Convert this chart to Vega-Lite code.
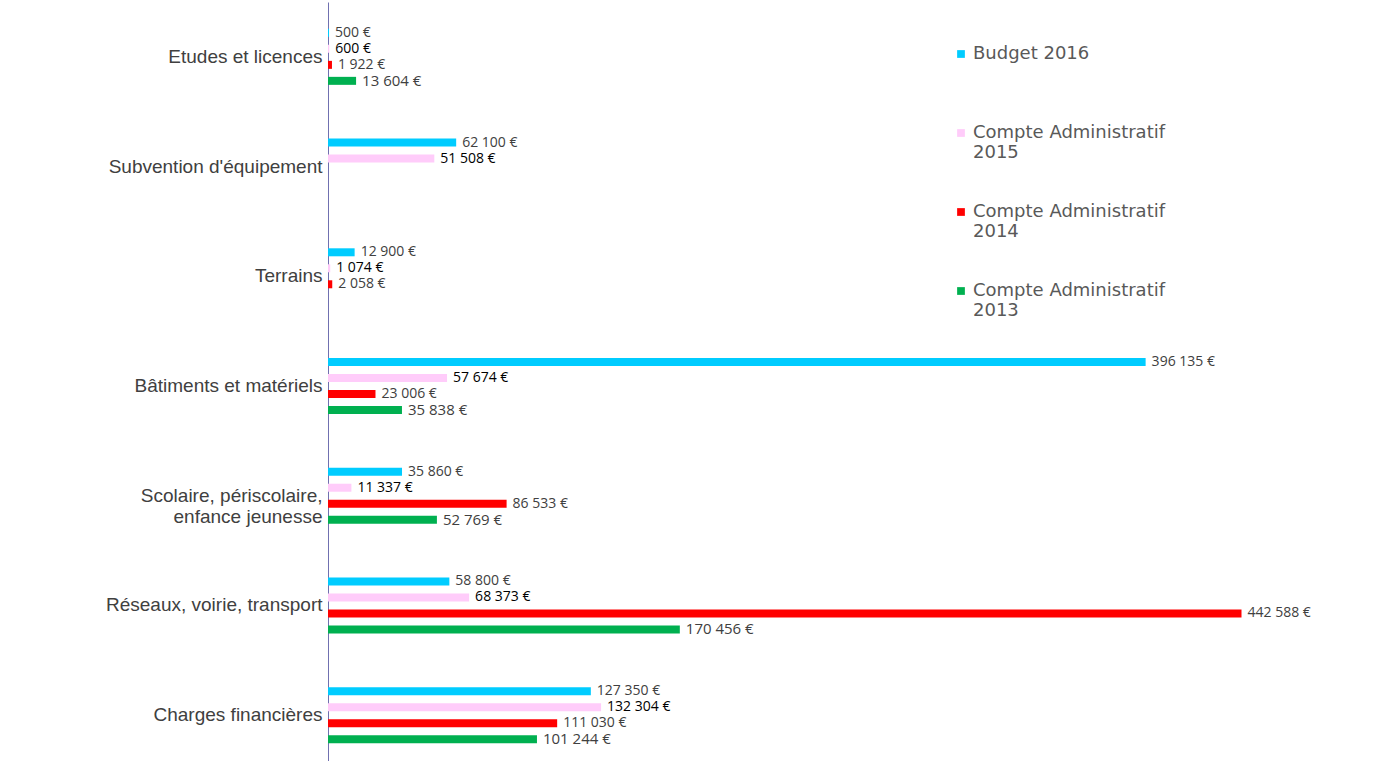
{
  "$schema": "https://vega.github.io/schema/vega-lite/v6.json",
  "autosize": {"type": "none"},
  "padding": {"left": 328, "top": 2, "right": 0, "bottom": 0},
  "width": 1032,
  "height": 768,
  "background": "white",
  "config": {"view": {"stroke": null}},
  "data": {
    "values": [
      {"poste": "Etudes et licences", "serie": "Budget 2016", "montant": 500},
      {"poste": "Etudes et licences", "serie": "Compte Administratif 2015", "montant": 600},
      {"poste": "Etudes et licences", "serie": "Compte Administratif 2014", "montant": 1922},
      {"poste": "Etudes et licences", "serie": "Compte Administratif 2013", "montant": 13604},
      {"poste": "Subvention d'équipement", "serie": "Budget 2016", "montant": 62100},
      {"poste": "Subvention d'équipement", "serie": "Compte Administratif 2015", "montant": 51508},
      {"poste": "Terrains", "serie": "Budget 2016", "montant": 12900},
      {"poste": "Terrains", "serie": "Compte Administratif 2015", "montant": 1074},
      {"poste": "Terrains", "serie": "Compte Administratif 2014", "montant": 2058},
      {"poste": "Bâtiments et matériels", "serie": "Budget 2016", "montant": 396135},
      {"poste": "Bâtiments et matériels", "serie": "Compte Administratif 2015", "montant": 57674},
      {"poste": "Bâtiments et matériels", "serie": "Compte Administratif 2014", "montant": 23006},
      {"poste": "Bâtiments et matériels", "serie": "Compte Administratif 2013", "montant": 35838},
      {"poste": "Scolaire, périscolaire, enfance jeunesse", "serie": "Budget 2016", "montant": 35860},
      {"poste": "Scolaire, périscolaire, enfance jeunesse", "serie": "Compte Administratif 2015", "montant": 11337},
      {"poste": "Scolaire, périscolaire, enfance jeunesse", "serie": "Compte Administratif 2014", "montant": 86533},
      {"poste": "Scolaire, périscolaire, enfance jeunesse", "serie": "Compte Administratif 2013", "montant": 52769},
      {"poste": "Réseaux, voirie, transport", "serie": "Budget 2016", "montant": 58800},
      {"poste": "Réseaux, voirie, transport", "serie": "Compte Administratif 2015", "montant": 68373},
      {"poste": "Réseaux, voirie, transport", "serie": "Compte Administratif 2014", "montant": 442588},
      {"poste": "Réseaux, voirie, transport", "serie": "Compte Administratif 2013", "montant": 170456},
      {"poste": "Charges financières", "serie": "Budget 2016", "montant": 127350},
      {"poste": "Charges financières", "serie": "Compte Administratif 2015", "montant": 132304},
      {"poste": "Charges financières", "serie": "Compte Administratif 2014", "montant": 111030},
      {"poste": "Charges financières", "serie": "Compte Administratif 2013", "montant": 101244}
    ]
  },
  "transform": [
    {"calculate": "replace(format(datum.montant, ','), regexp(',', 'g'), ' ') + ' €'", "as": "etiquette"}
  ],
  "encoding": {
    "y": {
      "field": "poste",
      "type": "nominal",
      "sort": null,
      "title": null,
      "scale": {"paddingInner": 0, "paddingOuter": 0},
      "axis": {
        "domainColor": "#7070B0",
        "domainWidth": 1,
        "ticks": false,
        "grid": false,
        "labelFont": "Liberation Sans",
        "labelFontSize": 19,
        "labelColor": "#404040",
        "labelPadding": 6,
        "labelLimit": 400,
        "labelLineHeight": 21,
        "labelExpr": "datum.value == 'Scolaire, périscolaire, enfance jeunesse' ? ['Scolaire, périscolaire,', 'enfance jeunesse'] : datum.value"
      }
    },
    "yOffset": {
      "field": "serie",
      "type": "nominal",
      "scale": {
        "domain": ["_avant", "Budget 2016", "Compte Administratif 2015", "Compte Administratif 2014", "Compte Administratif 2013", "_apres"],
        "paddingInner": 0.5,
        "paddingOuter": 0.68
      }
    },
    "x": {
      "field": "montant",
      "type": "quantitative",
      "scale": {"domain": [0, 500000], "nice": false},
      "axis": null
    }
  },
  "layer": [
    {
      "mark": {"type": "bar"},
      "encoding": {
        "color": {
          "field": "serie",
          "type": "nominal",
          "scale": {
            "domain": ["Budget 2016", "Compte Administratif 2015", "Compte Administratif 2014", "Compte Administratif 2013"],
            "range": ["#00CCFF", "#FFCCFA", "#FF0000", "#00B050"]
          },
          "legend": {
            "orient": "none",
            "legendX": 624,
            "legendY": 43,
            "title": null,
            "padding": 0,
            "symbolType": "square",
            "symbolSize": 60,
            "symbolStrokeWidth": 0,
            "labelFont": "DejaVu Sans",
            "labelFontSize": 18,
            "labelColor": "#595959",
            "rowPadding": 41,
            "gridAlign": "all",
            "labelOffset": 3,
            "labelLimit": 400,
            "labelExpr": "datum.label == 'Budget 2016' ? 'Budget 2016' : ['Compte Administratif', replace(datum.label, 'Compte Administratif ', '')]"
          }
        }
      }
    },
    {
      "mark": {"type": "text", "align": "left", "baseline": "middle", "dx": 6, "font": "Open Sans"},
      "encoding": {
        "text": {"field": "etiquette"},
        "color": {
          "condition": {"test": "datum.serie == 'Compte Administratif 2015'", "value": "#000000"},
          "value": "#404040"
        },
        "fontWeight": {
          "condition": {"test": "datum.serie == 'Compte Administratif 2015'", "value": "bold"},
          "value": "normal"
        },
        "size": {
          "condition": {"test": "datum.serie == 'Compte Administratif 2013'", "value": 15},
          "value": 14
        }
      }
    }
  ]
}
